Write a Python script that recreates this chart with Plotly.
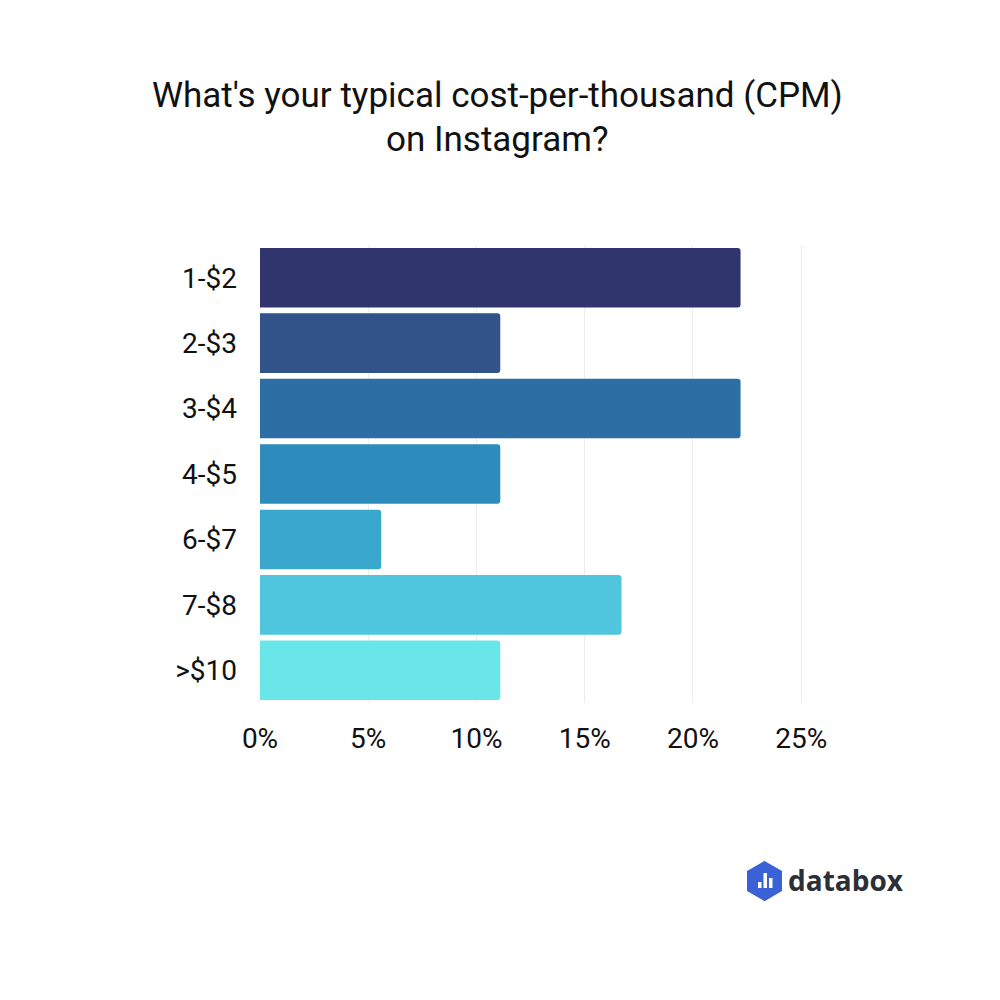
import plotly.graph_objects as go

categories = ["1-$2", "2-$3", "3-$4", "4-$5", "6-$7", "7-$8", ">$10"]
values = [22.2, 11.1, 22.2, 11.1, 5.6, 16.7, 11.1]
colors = ["#31356e", "#32528a", "#2d6fa5", "#2d8cbb", "#3aa7cc", "#4fc6dd", "#6ae5e8"]
tick_vals = [0, 5, 10, 15, 20, 25]
tick_text = ["0%", "5%", "10%", "15%", "20%", "25%"]

W, H = 1000, 1000
OFF = 8  # page body margin
L, R, T, B = 252, 196, 237, 305
PW, PH = W - L - R, H - T - B


def px(x):
    return (x - OFF - L) / PW


def py(y):
    return (H - B - (y - OFF)) / PH


fig = go.Figure()
fig.add_trace(go.Bar(
    x=values, y=categories, orientation="h",
    marker=dict(color=colors, cornerradius=3, line=dict(width=0)),
    hoverinfo="skip",
))

fig.update_layout(
    width=W, height=H,
    margin=dict(l=L, r=R, t=T, b=B),
    paper_bgcolor="white", plot_bgcolor="white",
    showlegend=False,
    bargap=0.09,
    font=dict(family="Roboto", color="#111111"),
    xaxis=dict(range=[0, 25.5], tickvals=tick_vals, ticktext=tick_text,
               showgrid=True, gridcolor="#ececec", gridwidth=1,
               zeroline=False, showline=False, ticks="",
               tickfont=dict(size=28, family="Roboto", color="#111111"),
               ticklabelstandoff=16, fixedrange=True),
    yaxis=dict(autorange="reversed", showgrid=False, zeroline=False,
               showline=False, ticks="",
               tickfont=dict(size=28, family="Roboto", color="#111111"),
               ticklabelstandoff=22, fixedrange=True),
)

fig.add_annotation(text="What's your typical cost-per-thousand (CPM)",
                   xref="paper", yref="paper", x=px(497), y=py(95),
                   showarrow=False, font=dict(size=35, family="Roboto", color="#111111"),
                   xanchor="center", yanchor="middle")
fig.add_annotation(text="on Instagram?",
                   xref="paper", yref="paper", x=px(497), y=py(139),
                   showarrow=False, font=dict(size=35, family="Roboto", color="#111111"),
                   xanchor="center", yanchor="middle")

# databox logo
hexpts = [(764.5, 862), (781, 871.5), (781, 890.5), (764.5, 900), (748, 890.5), (748, 871.5)]
path = "M " + " L ".join(f"{px(x)},{py(y)}" for x, y in hexpts) + " Z"
fig.add_shape(type="path", path=path, xref="paper", yref="paper",
              fillcolor="#3a62d6", line=dict(color="#3a62d6", width=2))
for x0, y0 in [(758, 882), (763.5, 873), (769, 878)]:
    fig.add_shape(type="rect", xref="paper", yref="paper",
                  x0=px(x0), x1=px(x0 + 3.5), y0=py(888), y1=py(y0),
                  fillcolor="white", line=dict(width=0))
fig.add_annotation(text="<b>databox</b>", xref="paper", yref="paper",
                   x=px(786), y=py(880), xanchor="left", yanchor="middle",
                   showarrow=False,
                   font=dict(size=28, family="Open Sans", color="#2c2f36"))

fig.write_html("out.html")
